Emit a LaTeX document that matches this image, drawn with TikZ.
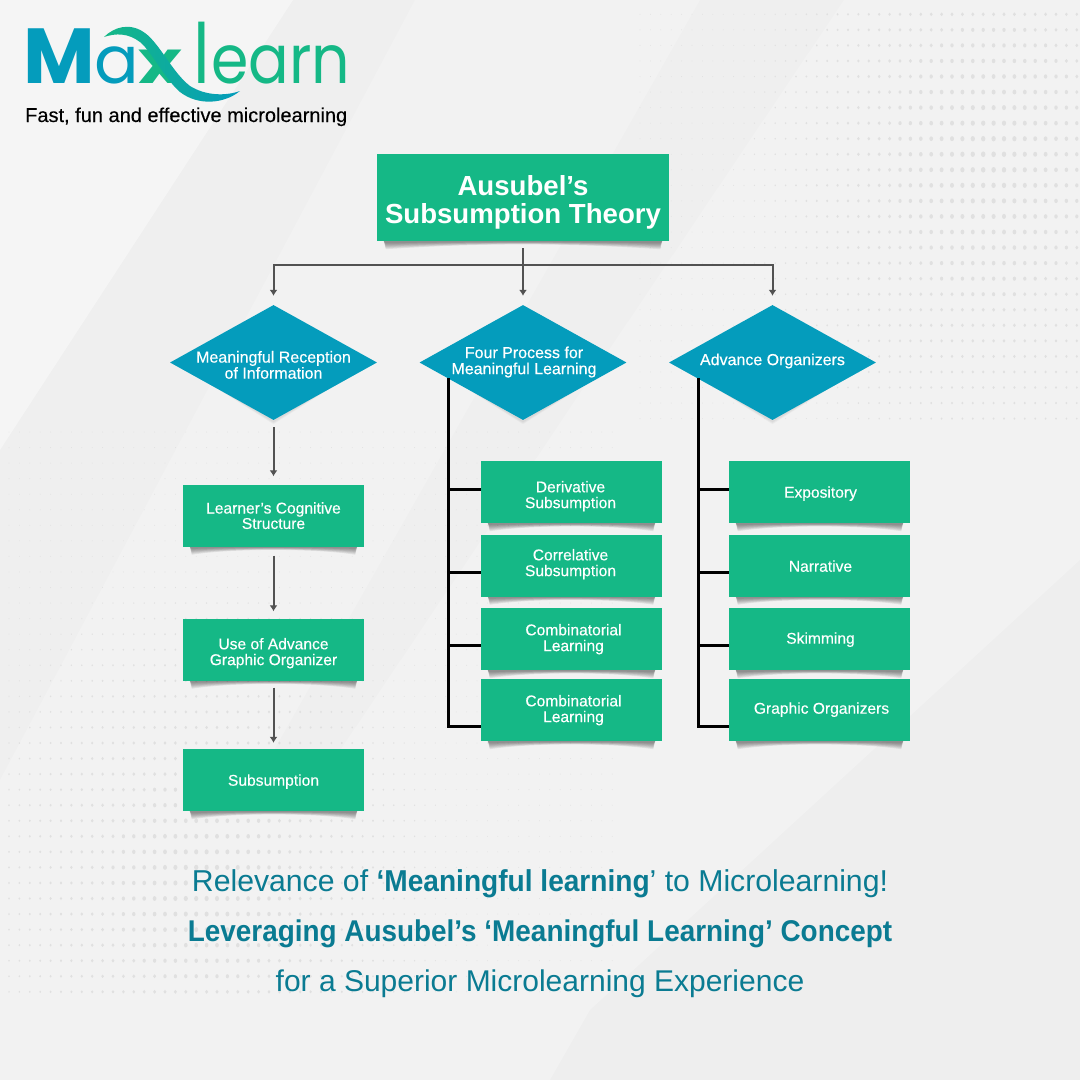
\documentclass[tikz,border=0pt]{standalone}
\usepackage{fontspec}
\setmainfont{Liberation Sans}[BoldFeatures={FakeStretch=0.93}]
\newfontfamily\titlef{Liberation Sans}
\newfontfamily\medf{Liberation Sans}[FakeBold=0.3]
\newfontfamily\logofont{Poppins}
\usetikzlibrary{shapes.geometric,calc,arrows.meta}
\definecolor{grn}{HTML}{15B886}
\definecolor{blu}{HTML}{049CBC}
\definecolor{tealtxt}{HTML}{0A7B92}
\definecolor{bgc}{HTML}{F2F2F2}
\newcommand\fs[1]{\medf\fontsize{#1}{15}\selectfont}
\newcommand\lab[3]{\smash{\makebox[0pt]{\hspace{#1pt}\hspace{#1pt}\raisebox{\dimexpr -5.9pt-#2pt\relax}{\begin{tabular}{@{}c@{}}#3\end{tabular}}}}}
\pgfdeclarelayer{back}\pgfdeclarelayer{shad}\pgfsetlayers{back,shad,main}
\tikzset{
 x=1pt,y=-1pt,
 gbox/.style={fill=grn,draw=none,inner sep=0pt,text=white,font=\fs{15.6}},
 cbox/.style={gbox,minimum width=181pt,minimum height=62pt},
 dia/.style={diamond,fill=blu,draw=none,inner sep=0pt,aspect=1.8,minimum width=207pt,minimum height=115pt,text=white,font=\fs{16}},
 conn/.style={draw=black!68,line width=2pt,-{Latex[length=6pt,width=8pt]}},
 bracket/.style={draw=black,line width=3pt},
 logot/.style={anchor=base west,inner sep=0pt},
}
\begin{document}
\begin{tikzpicture}
\useasboundingbox (0,0) rectangle (1080,1080);
\begin{pgfonlayer}{back}
\fill[bgc] (0,0) rectangle (1080,1080);
\fill[white,opacity=.3] (0,0) -- (293,0) -- (0,450) -- cycle;
\fill[black,opacity=.01] (293,0) -- (415,0) -- (0,780) -- (0,450) -- cycle;
\fill[black,opacity=.012] (700,0) -- (844,0) -- (300,810) -- (240,810) -- cycle;
\fill[black,opacity=.014] (1080,560) -- (1080,1080) -- (550,1080) -- (590,1010) -- cycle;
\foreach \r in {0,...,26}{\foreach \c in {0,...,42}{
 \pgfmathsetmacro\xx{640+\c*10.4}\pgfmathsetmacro\yy{14.3+\r*15.55}
 \pgfmathsetmacro\dd{2.3*(1-veclen(\xx-990,0.7*(\yy-160))/320)}
 \pgfmathsetmacro\rad{max(0.4,\dd)}
 \fill[black!12] (\xx,\yy) ellipse ({\rad*1pt} and {\rad*1.25pt});}}
\foreach \r in {0,...,36}{\foreach \c in {0,...,58}{
 \pgfmathsetmacro\xx{9+\c*10.4}\pgfmathsetmacro\yy{432+\r*15.55}
 \pgfmathsetmacro\dd{2.2*(1-veclen(\xx-200,0.8*(\yy-880))/320)}
 \pgfmathsetmacro\rad{max(0.4,\dd)}
 \fill[black!12] (\xx,\yy) ellipse ({\rad*1pt} and {\rad*1.25pt});}}
\end{pgfonlayer}
% logo
\node[logot,text=blu,font={\logofont\bfseries\fontsize{78}{78}\selectfont}] (logoM) at (23,83) {M};
\node[logot,text=blu,font={\logofont\fontsize{66}{66}\selectfont}] (logoA) at (94,83) {a};
\node[logot,text=grn,font={\logofont\bfseries\fontsize{60}{60}\selectfont},xscale=1.25] (logoX) at (138,83) {x};
\node[logot,text=grn,font={\logofont\fontsize{68}{68}\selectfont},yscale=1.22] (logoL) at (193,83) {l};
\node[logot,text=grn,font={\logofont\fontsize{68}{68}\selectfont},xscale=.885] (logoE) at (211,83) {earn};
\shade[left color=grn,middle color=grn,right color=blu]
 (104,37) .. controls (114,27) and (130,22) .. (145,33) .. controls (160,44) and (172,72) .. (190,86)
 .. controls (206,96) and (226,96) .. (240,91) .. controls (224,104) and (198,106) .. (180,92)
 .. controls (164,78) and (152,52) .. (140,42) .. controls (128,33) and (116,33) .. (104,37) -- cycle;
\node[logot,text=black,font=\medf\fontsize{20}{20}\selectfont] (tag) at (25,122) {Fast, fun and effective microlearning};
% boxes
\node[gbox,minimum width=292pt,minimum height=87pt,font={\titlef\bfseries\fontsize{27.6}{28.5}\selectfont}] (title) at (523,197.5) {\lab{0}{6.5}{Ausubel’s\\Subsumption Theory}};
\node[dia] (d1) at (273.5,362.5) {\lab{0}{3}{Meaningful Reception\\of Information}};
\node[dia] (d2) at (523,362.5) {\lab{1}{-1.5}{Four Process for\\Meaningful Learning}};
\node[dia] (d3) at (772.5,362.5) {\lab{0}{-2.5}{Advance Organizers}};
\node[cbox] (a1) at (273.5,515.5) {\lab{0}{0}{Learner’s Cognitive\\Structure}};
\node[cbox] (a2) at (273.5,649.5) {\lab{0}{2}{Use of Advance\\Graphic Organizer}};
\node[cbox] (a3) at (273.5,780) {\lab{0}{0}{Subsumption}};
\node[cbox] (m1) at (571.5,492) {\lab{-1}{2.5}{Derivative\\Subsumption}};
\node[cbox] (m2) at (571.5,565.5) {\lab{-1}{-3}{Correlative\\Subsumption}};
\node[cbox] (m3) at (571.5,639) {\lab{2}{-1.5}{Combinatorial\\Learning}};
\node[cbox] (m4) at (571.5,710) {\lab{2}{-1.5}{Combinatorial\\Learning}};
\node[cbox] (r1) at (819.5,492) {\lab{1}{0}{Expository}};
\node[cbox] (r2) at (819.5,565.5) {\lab{1}{0.5}{Narrative}};
\node[cbox] (r3) at (819.5,639) {\lab{1}{-1}{Skimming}};
\node[cbox] (r4) at (819.5,710) {\lab{2}{-2}{Graphic Organizers}};
% shadows
\begin{pgfonlayer}{shad}
\foreach \n in {title,a1,a2,a3,m1,m2,m3,m4,r1,r2,r3,r4}{
 \foreach \h in {8,7,6,5,4,3,2}{
  \fill[black,opacity=.07] ($(\n.south west)+(7,0)$) -- ($(\n.south west)+(9,\h)$)
   .. controls ($(\n.south)+(-40,0.2*\h)$) and ($(\n.south)+(40,0.2*\h)$) .. ($(\n.south east)+(-9,\h)$)
   -- ($(\n.south east)+(-7,0)$) -- cycle;
 }}
\foreach \n in {d1,d2,d3}{
 \foreach \h in {4,3,2}{
 \fill[black,opacity=.03] ($(\n.west)+(6,0)$) -- ($(\n.south)+(0,\h)$) -- ($(\n.east)+(-6,0)$) -- cycle;}
}
\end{pgfonlayer}
% connectors
\coordinate (bus) at (523,265);
\draw[conn,shorten <=7pt,shorten >=9pt] (title.south) -- (d2.north);
\draw[conn,shorten >=9pt] (bus) -| (d1.north);
\draw[conn,shorten >=9pt] (bus) -| (d3.north);
\draw[conn,shorten <=7pt,shorten >=8pt] (d1.south) -- (a1.north);
\draw[conn,shorten <=9pt,shorten >=7pt] (a1.south) -- (a2.north);
\draw[conn,shorten <=7pt,shorten >=6pt] (a2.south) -- (a3.north);
\coordinate (bm) at (448,378);
\coordinate (br) at (698,378);
\foreach \b/\x in {bm/481,br/729}{
 \coordinate (t1) at (\x,489);\coordinate (t2) at (\x,572);\coordinate (t3) at (\x,645);\coordinate (t4) at (\x,726);
 \draw[bracket] (\b) |- (t4);
 \draw[bracket] (\b |- t1) -- (t1);
 \draw[bracket] (\b |- t2) -- (t2);
 \draw[bracket] (\b |- t3) -- (t3);
}
% footer
\node[anchor=base,inner sep=0pt,text=tealtxt,font=\fontsize{30.2}{30}\selectfont] (f1) at (540,891) {Relevance of {\bfseries ‘Meaningful learning}’ to Microlearning!};
\node[anchor=base,inner sep=0pt,text=tealtxt,font=\bfseries\fontsize{30}{30}\selectfont] (f2) at (540,941) {Leveraging Ausubel’s ‘Meaningful Learning’ Concept};
\node[anchor=base,inner sep=0pt,text=tealtxt,font=\fontsize{30}{30}\selectfont] (f3) at (540,991) {for a Superior Microlearning Experience};
\end{tikzpicture}
\end{document}
